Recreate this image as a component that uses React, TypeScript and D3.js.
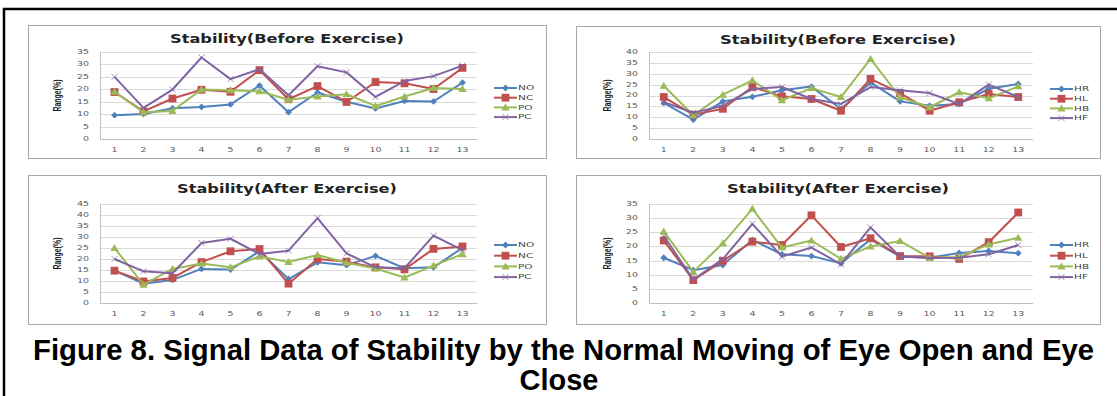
import React from "react";
import * as d3 from "d3";

const categories = ["1", "2", "3", "4", "5", "6", "7", "8", "9", "10", "11", "12", "13"];
const groupA = ["NO", "NC", "PO", "PC"];
const groupB = ["HR", "HL", "HB", "HF"];

const ticks35 = [0, 5, 10, 15, 20, 25, 30, 35];
const ticks40 = [0, 5, 10, 15, 20, 25, 30, 35, 40];
const ticks45 = [0, 5, 10, 15, 20, 25, 30, 35, 40, 45];

const beforeNO = [9.6, 10.1, 12.4, 12.9, 13.9, 21.5, 10.8, 18.7, 15.0, 12.3, 15.3, 15.1, 22.7];
const beforeNC = [18.9, 11.1, 16.3, 19.8, 19.0, 27.7, 16.0, 21.3, 14.9, 22.9, 22.4, 20.1, 28.6];
const beforePO = [19.0, 10.8, 11.3, 19.9, 19.6, 19.2, 15.8, 17.1, 18.0, 13.3, 17.1, 20.5, 20.1];
const beforePC = [25.0, 12.5, 19.9, 32.8, 24.1, 28.1, 17.6, 29.3, 26.8, 16.9, 23.3, 25.3, 29.5];

const beforeHR = [16.6, 8.9, 17.3, 19.4, 22.4, 24.1, 13.8, 26.0, 17.3, 15.3, 16.1, 23.1, 25.3];
const beforeHL = [19.3, 11.2, 13.9, 23.9, 19.6, 18.4, 13.0, 27.6, 21.1, 13.0, 16.9, 20.7, 19.3];
const beforeHB = [24.5, 10.9, 20.4, 27.0, 17.8, 23.4, 19.3, 36.8, 19.2, 14.6, 21.5, 18.7, 24.2];
const beforeHF = [17.0, 12.0, 15.3, 23.0, 23.9, 18.4, 16.1, 23.9, 22.4, 21.1, 16.1, 25.0, 19.3];

const afterNO = [14.7, 8.8, 10.5, 15.5, 15.2, 23.5, 10.9, 18.5, 17.2, 21.4, 15.8, 16.2, 25.1];
const afterNC = [14.7, 9.8, 11.4, 18.6, 23.5, 24.5, 8.8, 20.0, 18.8, 16.2, 15.3, 24.6, 25.7];
const afterPO = [25.0, 8.3, 15.5, 18.0, 16.2, 21.2, 18.6, 21.8, 18.3, 15.7, 11.6, 17.0, 22.2];
const afterPC = [20.0, 14.4, 13.5, 27.3, 29.2, 22.3, 23.8, 38.6, 22.6, 16.2, 15.8, 30.6, 24.0];

const afterHR = [16.0, 11.6, 13.4, 22.3, 17.2, 16.6, 14.0, 22.5, 16.4, 16.0, 17.7, 18.4, 17.6];
const afterHL = [22.1, 8.1, 14.9, 21.7, 20.5, 31.0, 19.8, 22.9, 16.6, 16.5, 15.6, 21.5, 32.0];
const afterHB = [25.3, 11.0, 21.1, 33.3, 19.6, 22.1, 15.6, 20.0, 21.9, 16.0, 16.3, 20.7, 23.1];
const afterHF = [23.7, 8.3, 15.5, 28.0, 16.4, 19.6, 13.7, 26.7, 16.4, 15.9, 16.0, 17.2, 20.5];

const seriesColors = ["#4F81BD", "#C0504D", "#9BBB59", "#8064A2"];
const markerKinds = ["diamond", "square", "triangle", "x"];

function Marker({ kind, color, x, y }: { kind: string; color: string; x: number; y: number }) {
  const t = `translate(${x},${y})`;
  if (kind === "diamond") return <path transform={t} d="M0,-3.4L3.4,0L0,3.4L-3.4,0Z" fill={color} />;
  if (kind === "square") return <rect transform={t} x={-3.9} y={-3.9} width={7.8} height={7.8} fill={color} />;
  if (kind === "triangle") return <path transform={t} d="M0,-4L4.2,3L-4.2,3Z" fill={color} />;
  return <path transform={t} d="M-3,-3L3,3M-3,3L3,-3" stroke={color} strokeOpacity={0.75} strokeWidth={1} fill="none" />;
}

function WideText({ x, y, sx, anchor, size, children, fill }: any) {
  return (
    <text
      transform={`translate(${x},${y}) scale(${sx},1)`}
      textAnchor={anchor}
      dominantBaseline="central"
      fontFamily="DejaVu Sans"
      fontSize={size}
      fill={fill || "#5a5a5a"}
    >
      {children}
    </text>
  );
}

type PanelProps = {
  box: { x: number; y: number; w: number; h: number };
  plot: { x0: number; x1: number; yTop: number; yBot: number };
  yMax: number;
  ticks: number[];
  title: string;
  titleY: number;
  titleLen: number;
  names: string[];
  series: number[][];
  legendX: number;
  legendY0: number;
  legendStep: number;
  ylabelX: number;
};

function Panel(p: PanelProps) {
  const x = d3.scaleBand<string>().domain(categories).range([p.plot.x0, p.plot.x1]).padding(0);
  const y = d3.scaleLinear().domain([0, p.yMax]).range([p.plot.yBot, p.plot.yTop]);
  const cx = (c: string) => (x(c) as number) + x.bandwidth() / 2;
  const line = d3
    .line<number>()
    .x((_, i) => cx(categories[i]))
    .y((d) => y(d));
  const boxCx = p.box.x + p.box.w / 2;
  const ylabelY = (p.plot.yTop + p.plot.yBot) / 2;
  return (
    <g>
      <rect x={p.box.x + 0.5} y={p.box.y + 0.5} width={p.box.w} height={p.box.h} fill="#fff" stroke="#a8a8a8" strokeWidth={1} />
      <text
        x={boxCx}
        y={p.titleY}
        textAnchor="middle"
        dominantBaseline="central"
        fontFamily="DejaVu Sans"
        fontWeight="bold"
        fontSize={12.5}
        fill="#222"
        textLength={p.titleLen}
        lengthAdjust="spacingAndGlyphs"
      >
        {p.title}
      </text>
      {p.ticks.map((t) => (
        <g key={t}>
          <line x1={p.plot.x0} x2={p.plot.x1} y1={Math.round(y(t)) + 0.5} y2={Math.round(y(t)) + 0.5} stroke={t === 0 ? "#c0c0c0" : "#dadada"} strokeWidth={1} />
          <WideText x={p.plot.x0 - 11} y={y(t)} sx={1.5} anchor="end" size={6.3}>
            {String(t)}
          </WideText>
        </g>
      ))}
      <line x1={p.plot.x0 + 0.5} x2={p.plot.x0 + 0.5} y1={p.plot.yTop} y2={p.plot.yBot} stroke="#c0c0c0" strokeWidth={1} />
      {categories.map((c) => (
        <WideText key={c} x={cx(c)} y={p.plot.yBot + 11} sx={1.5} anchor="middle" size={6.3}>
          {c}
        </WideText>
      ))}
      <text
        transform={`translate(${p.ylabelX},${ylabelY}) rotate(-90)`}
        textAnchor="middle"
        dominantBaseline="central"
        fontFamily="Liberation Sans"
        fontWeight="bold"
        fontSize={11}
        fill="#222"
        textLength={32}
        lengthAdjust="spacingAndGlyphs"
      >
        Range(%)
      </text>
      {p.series.map((s, si) => (
        <g key={si}>
          <path d={line(s) || ""} fill="none" stroke={seriesColors[si]} strokeWidth={2} strokeLinejoin="round" />
          {s.map((v, i) => (
            <Marker key={i} kind={markerKinds[si]} color={seriesColors[si]} x={cx(categories[i])} y={y(v)} />
          ))}
        </g>
      ))}
      {p.names.map((n, i) => {
        const ly = p.legendY0 + i * p.legendStep;
        return (
          <g key={n}>
            <line x1={p.legendX} x2={p.legendX + 23} y1={ly} y2={ly} stroke={seriesColors[i]} strokeWidth={2} />
            <Marker kind={markerKinds[i]} color={seriesColors[i]} x={p.legendX + 11.5} y={ly} />
            <WideText x={p.legendX + 24} y={ly} sx={1.55} anchor="start" size={6.8} fill="#444">
              {n}
            </WideText>
          </g>
        );
      })}
    </g>
  );
}

export default function App() {
  return (
    <svg width={1117} height={396} style={{ position: "absolute", left: 0, top: 0, background: "#fff" }}>
      <rect x={0} y={0} width={1117} height={396} fill="#fff" />
      <line x1={3} x2={1117} y1={9} y2={9} stroke="#000" strokeWidth={2.5} />
      <line x1={4} x2={4} y1={8} y2={396} stroke="#000" strokeWidth={2.5} />
      <Panel
        box={{ x: 28, y: 25, w: 518, h: 133 }}
        plot={{ x0: 100, x1: 477, yTop: 52, yBot: 139 }}
        yMax={35}
        ticks={ticks35}
        title="Stability(Before Exercise)"
        titleY={38}
        titleLen={234}
        names={groupA}
        series={[beforeNO, beforeNC, beforePO, beforePC]}
        legendX={494}
        legendY0={88}
        legendStep={9.7}
        ylabelX={57}
      />
      <Panel
        box={{ x: 576, y: 26, w: 524, h: 132 }}
        plot={{ x0: 649, x1: 1033, yTop: 52, yBot: 139 }}
        yMax={40}
        ticks={ticks40}
        title="Stability(Before Exercise)"
        titleY={39}
        titleLen={236}
        names={groupB}
        series={[beforeHR, beforeHL, beforeHB, beforeHF]}
        legendX={1050}
        legendY0={89}
        legendStep={9.7}
        ylabelX={607}
      />
      <Panel
        box={{ x: 28, y: 175, w: 518, h: 149 }}
        plot={{ x0: 100, x1: 477, yTop: 204, yBot: 303 }}
        yMax={45}
        ticks={ticks45}
        title="Stability(After Exercise)"
        titleY={188}
        titleLen={220}
        names={groupA}
        series={[afterNO, afterNC, afterPO, afterPC]}
        legendX={494}
        legendY0={245}
        legendStep={10.7}
        ylabelX={57}
      />
      <Panel
        box={{ x: 576, y: 175, w: 524, h: 149 }}
        plot={{ x0: 649, x1: 1033, yTop: 204, yBot: 303 }}
        yMax={35}
        ticks={ticks35}
        title="Stability(After Exercise)"
        titleY={188}
        titleLen={222}
        names={groupB}
        series={[afterHR, afterHL, afterHB, afterHF]}
        legendX={1050}
        legendY0={245}
        legendStep={10.7}
        ylabelX={607}
      />
      <text
        x={33}
        y={360}
        fontFamily="Liberation Sans"
        fontWeight="bold"
        fontSize={29}
        fill="#000"
        textLength={1061}
        lengthAdjust="spacingAndGlyphs"
      >
        Figure 8. Signal Data of Stability by the Normal Moving of Eye Open and Eye
      </text>
      <text x={559} y={390} textAnchor="middle" fontFamily="Liberation Sans" fontWeight="bold" fontSize={29} fill="#000">
        Close
      </text>
    </svg>
  );
}
